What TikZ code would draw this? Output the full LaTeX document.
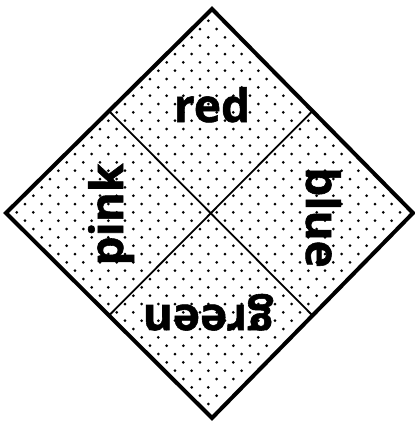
\documentclass[tikz,border=0pt]{standalone}
\usepackage{fontspec}
\setmainfont{Open Sans}
\newfontfamily\labelfont[FakeBold=1.2]{Open Sans}
\usetikzlibrary{calc}
\tikzset{
  x=1pt, y=1pt,
  outerline/.style={line width=4pt, line join=miter},
  crossline/.style={line width=1.8pt},
  dotfill/.style={fill=black},
  wordlabel/.style={font=\labelfont\fontsize{46}{46}\selectfont\bfseries, inner sep=0pt, anchor=base, text=black},
}
\begin{document}
\begin{tikzpicture}
\useasboundingbox (0,0) rectangle (415,-421);
\fill[white] (0,0) rectangle (415,-421);
% corners of the diamond
\coordinate (top) at (212,-9);
\coordinate (right) at (413,-213);
\coordinate (bottom) at (212,-418);
\coordinate (left) at (6,-213);
% midpoints of the edges
\coordinate (mTL) at ($(top)!0.5!(left)$);
\coordinate (mTR) at ($(top)!0.5!(right)$);
\coordinate (mBR) at ($(bottom)!0.5!(right)$);
\coordinate (mBL) at ($(bottom)!0.5!(left)$);
% dotted fill
\begin{scope}
  \clip (top) -- (right) -- (bottom) -- (left) -- cycle;
  \foreach \j in {0,...,48}{
    \pgfmathsetmacro\off{mod(\j,2)*8.333}
    \foreach \i in {-13,...,13}{
      \fill[dotfill] ({208.33+\i*16.667+\off},{-20.7-\j*8.333}) circle (1.5);
    }
  }
\end{scope}
% labels
\node[wordlabel] (red) at (212,-122) {red};
\node[wordlabel, rotate=90] (pink) at (123,-214.5) {pink};
\node[wordlabel, rotate=-90] (blue) at (306,-217.5) {blue};
\node[wordlabel, rotate=180] (green) at (208,-305) {green};
% cross lines
\draw[crossline] (mTL) -- (mBR);
\draw[crossline] (mTR) -- (mBL);
% outline
\draw[outerline] (top) -- (right) -- (bottom) -- (left) -- cycle;
\end{tikzpicture}
\end{document}
